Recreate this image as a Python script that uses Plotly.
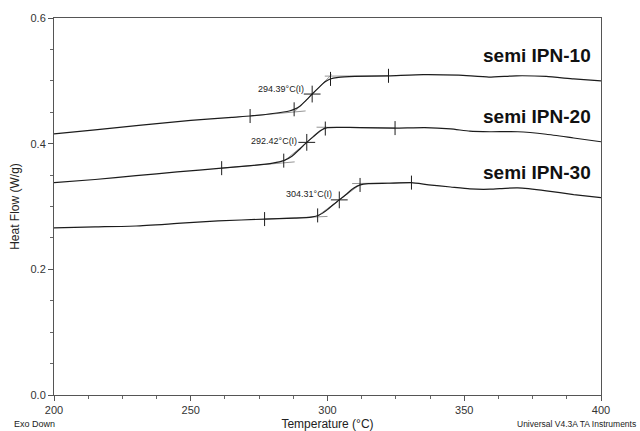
import numpy as np
import plotly.graph_objects as go

# ---- data ----
T10 = [200, 215, 231, 250, 265, 271.7, 280, 286, 288, 290, 292, 294.4, 297, 299, 301, 304, 310, 322.3, 335, 348, 359, 369, 380, 390, 400]
HF10 = [0.4156, 0.422, 0.429, 0.437, 0.442, 0.444, 0.448, 0.452, 0.455, 0.460, 0.468, 0.479, 0.490, 0.498, 0.503, 0.5055, 0.507, 0.508, 0.510, 0.509, 0.506, 0.508, 0.507, 0.503, 0.500]

T20 = [200, 215, 230, 245, 261.3, 272, 280, 284, 287, 290, 292.4, 295, 297.5, 300, 304, 312, 324.7, 335.5, 345, 352, 359.4, 369.6, 380, 390, 400]
HF20 = [0.338, 0.343, 0.349, 0.355, 0.361, 0.365, 0.369, 0.373, 0.380, 0.392, 0.402, 0.412, 0.421, 0.4255, 0.426, 0.4255, 0.4248, 0.4256, 0.4235, 0.420, 0.419, 0.419, 0.415, 0.409, 0.403]

T30 = [200, 215, 230, 245, 260, 277, 288, 294, 297, 300, 302, 304.3, 307, 309.5, 312, 315, 322, 330.7, 337, 345, 352, 359.4, 365, 369.6, 380, 390, 400]
HF30 = [0.266, 0.2675, 0.269, 0.273, 0.277, 0.280, 0.2815, 0.283, 0.2865, 0.295, 0.3025, 0.3105, 0.320, 0.329, 0.3345, 0.3365, 0.337, 0.338, 0.3345, 0.331, 0.328, 0.3275, 0.329, 0.3295, 0.325, 0.319, 0.314]

series_names = ["semi IPN-10", "semi IPN-20", "semi IPN-30"]
tg_values = [294.39, 292.42, 304.31]
tg_labels = ["294.39°C(I)", "292.42°C(I)", "304.31°C(I)"]
limit_ticks = [[271.7, 287.8, 301.1, 322.3], [261.3, 284.0, 299.2, 324.7], [277.0, 296.4, 311.9, 330.7]]

# tangent construction lines (extrapolated baselines and inflection tangent)
lower_T = [[271.7, 292], [261.3, 288], [277, 300]]
lower_HF = [[0.444, 0.4521], [0.361, 0.371], [0.280, 0.2842]]
tan_T = [[288, 301.5], [284.5, 299.5], [296.5, 312]]
tan_HF = [[0.4512, 0.5099], [0.3736, 0.4273], [0.2853, 0.3353]]
upper_T = [[299, 322.3], [296, 324.7], [309, 330.7]]
upper_HF = [[0.5075, 0.508], [0.4262, 0.4248], [0.3365, 0.338]]

# label placements (data coords)
name_pos_y = [0.541, 0.443, 0.3535]
tg_label_pos = [(292.1, 0.487), (289.6, 0.4045), (302.5, 0.3196)]

curves = [(T10, HF10), (T20, HF20), (T30, HF30)]

fig = go.Figure()
gray = "#7a7a7a"
dark = "#1c1c1c"

for i, (T, HF) in enumerate(curves):
    for xs, ys in ((lower_T[i], lower_HF[i]), (tan_T[i], tan_HF[i]), (upper_T[i], upper_HF[i])):
        fig.add_trace(go.Scatter(x=xs, y=ys, mode="lines", line=dict(color=gray, width=0.8),
                                 showlegend=False, hoverinfo="skip"))
    fig.add_trace(go.Scatter(x=T, y=HF, mode="lines", name=series_names[i],
                             line=dict(color=dark, width=1.2, shape="spline", smoothing=0.5),
                             showlegend=False))
    tk = limit_ticks[i]
    fig.add_trace(go.Scatter(x=tk, y=np.interp(tk, T, HF), mode="markers",
                             marker=dict(symbol="line-ns", size=10, line=dict(color=dark, width=1)),
                             showlegend=False, hoverinfo="skip"))
    fig.add_trace(go.Scatter(x=[tg_values[i]], y=np.interp([tg_values[i]], T, HF), mode="markers",
                             marker=dict(symbol="cross-thin", size=12, line=dict(color=dark, width=1)),
                             showlegend=False, hoverinfo="skip"))
    fig.add_annotation(x=397.1, y=name_pos_y[i], text="<b>" + series_names[i] + "</b>", showarrow=False,
                       xanchor="right", yanchor="middle",
                       font=dict(family="Liberation Sans, Arial", size=19, color="#111"))
    lx, ly = tg_label_pos[i]
    fig.add_annotation(x=lx, y=ly, text=tg_labels[i], showarrow=False,
                       xanchor="right", yanchor="middle",
                       font=dict(family="Liberation Sans, Arial", size=9, color="#222"))

fig.add_annotation(xref="paper", yref="paper", x=-0.0768, y=-0.077, text="Exo Down",
                   showarrow=False, xanchor="left", yanchor="middle",
                   font=dict(family="Liberation Sans, Arial", size=9, color="#222"))
fig.add_annotation(xref="paper", yref="paper", x=1.0677, y=-0.077, text="Universal V4.3A TA Instruments",
                   showarrow=False, xanchor="right", yanchor="middle",
                   font=dict(family="Liberation Sans, Arial", size=8.5, color="#222"))

axis_common = dict(showgrid=False, zeroline=False, showline=True, linecolor="#555", linewidth=1,
                   mirror=True, ticks="outside", ticklen=5, tickcolor="#555",
                   tickfont=dict(family="Liberation Sans, Arial", size=11, color="#333"))

fig.update_xaxes(range=[200, 400], tickvals=[200, 250, 300, 350, 400], automargin=False,
                 minor=dict(dtick=12.5, tick0=200, ticks="outside", ticklen=3, tickcolor="#666"),
                 title=dict(text="Temperature (°C)", standoff=6,
                            font=dict(family="Liberation Sans, Arial", size=12, color="#222")),
                 **axis_common)
fig.update_yaxes(range=[0, 0.6], tickvals=[0, 0.2, 0.4, 0.6], tickformat=".1f", automargin=False,
                 minor=dict(dtick=0.05, tick0=0, ticks="outside", ticklen=3, tickcolor="#666"),
                 title=dict(text="Heat Flow (W/g)", standoff=8,
                            font=dict(family="Liberation Sans, Arial", size=12, color="#222")),
                 **axis_common)

fig.update_layout(width=640, height=431, margin=dict(l=54, r=39, t=18, b=36),
                  plot_bgcolor="white", paper_bgcolor="white", showlegend=False)

fig.write_html("out.html")
